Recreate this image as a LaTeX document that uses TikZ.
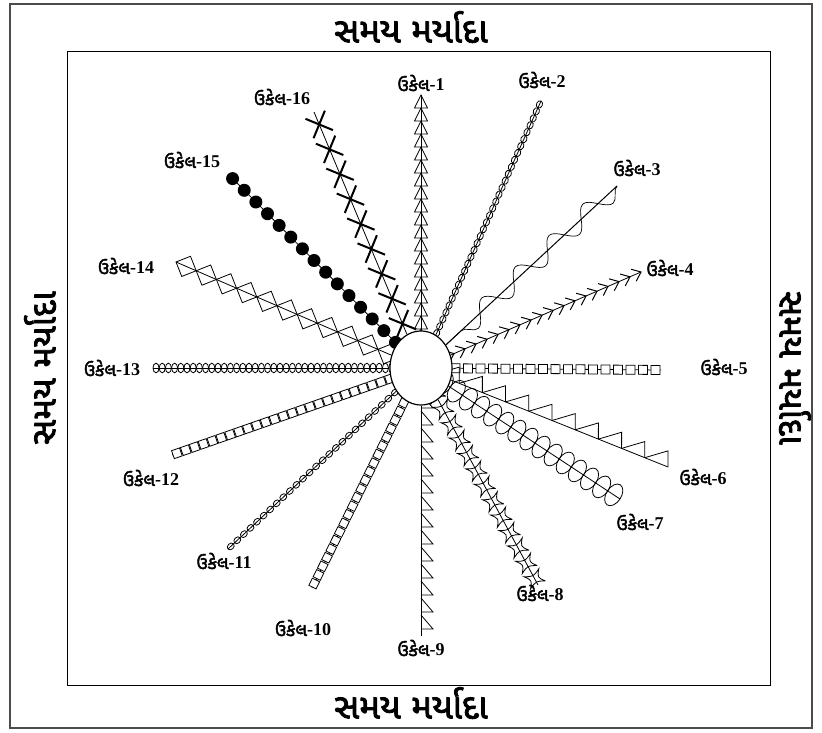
\documentclass[tikz,border=0pt]{standalone}
\usepackage{fontspec}
\setmainfont{Liberation Serif}
\newfontfamily\gujfont[Script=Gujarati,AutoFakeBold=2.5]{Noto Sans Gujarati UI}
\usetikzlibrary{
	shapes.geometric,
	backgrounds,
	decorations.markings,
	decorations.pathmorphing}

\newcommand{\ukel}[1]{{\gujfont\bfseries ઉકેલ}\textbf{-#1}}
\newcommand{\samay}{{\gujfont\bfseries સમય મર્યાદા}}

% rays run from their outer end to the hub, so x points inwards
\tikzset{
	lbl/.style={font=\fontsize{18}{18}\selectfont, inner sep=1pt},
	ttl/.style={font=\fontsize{35}{36}\selectfont, inner sep=1pt},
	frame/.style={draw=black!70, line width=1.2pt},
	hubnode/.style={draw, ellipse, fill=white, line width=1.2pt,
		minimum width=62pt, minimum height=74pt, inner sep=0pt},
	ray/.style={draw, line width=0.8pt},
	marks/.style n args={3}{postaction={decorate, decoration={markings,
		mark=between positions #2 and 1 step #1 with {#3}}}},
	tris/.style={ray, marks={13pt}{0pt}{\draw (0pt,0pt) -- (13pt,-6.5pt) -- (13pt,6.5pt) -- cycle;}},
	beads/.style={ray, marks={#1}{0pt}{\draw (3.8pt,0pt) ellipse [x radius=3.8pt, y radius=3pt];}},
	wavy/.style={ray, line width=1pt, postaction={draw, line width=0.7pt, decorate,
		decoration={snake, amplitude=10pt, segment length=46pt}}},
	chevs/.style={ray, marks={12pt}{0pt}{\draw[line width=1pt] (8pt,6.5pt) -- (0pt,0pt) -- (8pt,-6.5pt);}},
	boxes/.style 2 args={ray, marks={#2}{1pt}{\draw[fill=white] (0pt,-#1) rectangle (2*#1,#1);}},
	saw/.style={ray, marks={25pt}{0pt}{\draw (0pt,0pt) -- (6pt,-15pt) -- (25pt,0pt);}},
	ovals/.style 2 args={ray, marks={#2}{0pt}{\draw (#1,0pt) ellipse [x radius=#1, y radius=1.6*#1];}},
	stars/.style={ray, marks={17.5pt}{0pt}{\draw (0pt,-8.5pt) .. controls (7pt,-3pt) .. (14pt,-8.5pt)
		.. controls (9.5pt,0pt) .. (14pt,8.5pt) .. controls (7pt,3pt) .. (0pt,8.5pt)
		.. controls (4.5pt,0pt) .. (0pt,-8.5pt);}},
	halftris/.style={ray, marks={17pt}{7pt}{\draw (14pt,0pt) -- (0pt,-12pt) -- (0pt,0pt);}},
	diamonds/.style={ray, marks={22pt}{0pt}{\draw (0pt,0pt) -- (11pt,11pt) -- (22pt,0pt) -- (11pt,-11pt) -- cycle;}},
	dots/.style={ray, marks={16.5pt}{0pt}{\fill (6.5pt,0pt) circle (6.5pt);}},
	crosses/.style={ray, marks={27pt}{0pt}{\draw[line width=2pt] (3pt,-10.5pt) -- (24pt,10.5pt) (3pt,10.5pt) -- (24pt,-10.5pt);}}
}

\begin{document}
\begin{tikzpicture}[x=1pt, y=-1pt]
    \useasboundingbox (0,0) rectangle (822,733);
    \draw[frame] (10,4) rectangle (812,728);
    \draw[line width=1pt] (67,52) rectangle (770,685);

    \node[ttl] (ttop) at (411,27) {\samay};
    \node[ttl] (tbottom) at (411,703) {\samay};
    \node[ttl, rotate=90] (tleft) at (40,368) {\samay};
    \node[ttl, rotate=-90] (tright) at (795,368) {\samay};

    \node[hubnode] (hub) at (421,368) {};

    \coordinate (e1) at (421,95);
    \coordinate (e2) at (541,101);
    \coordinate (e3) at (617,186);
    \coordinate (e4) at (641,272);
    \coordinate (e5) at (661,370);
    \coordinate (e6) at (668,467);
    \coordinate (e7) at (620,499);
    \coordinate (e8) at (538,585);
    \coordinate (e9) at (421,636);
    \coordinate (e10) at (312,588);
    \coordinate (e11) at (228,549);
    \coordinate (e12) at (172,455);
    \coordinate (e13) at (153,368);
    \coordinate (e14) at (176,262);
    \coordinate (e15) at (228,174);
    \coordinate (e16) at (314,112);

    \node[lbl] (u1) at (421,83) {\ukel{1}};
    \node[lbl] (u2) at (542,80) {\ukel{2}};
    \node[lbl] (u3) at (637,168) {\ukel{3}};
    \node[lbl] (u4) at (670,268) {\ukel{4}};
    \node[lbl] (u5) at (724,367) {\ukel{5}};
    \node[lbl] (u6) at (703,477) {\ukel{6}};
    \node[lbl] (u7) at (640,522) {\ukel{7}};
    \node[lbl] (u8) at (540,593) {\ukel{8}};
    \node[lbl] (u9) at (421,648) {\ukel{9}};
    \node[lbl] (u10) at (303,628) {\ukel{10}};
    \node[lbl] (u11) at (224,561) {\ukel{11}};
    \node[lbl] (u12) at (151,478) {\ukel{12}};
    \node[lbl] (u13) at (112,368) {\ukel{13}};
    \node[lbl] (u14) at (126,266) {\ukel{14}};
    \node[lbl] (u15) at (192,160) {\ukel{15}};
    \node[lbl] (u16) at (282,97) {\ukel{16}};

    \begin{scope}[on background layer]
    \draw[tris] (e1) -- (hub);
    \draw[beads=7.6pt] (e2) -- (hub);
    \draw[wavy] (e3) -- (hub);
    \draw[chevs] (e4) -- (hub);
    \draw[boxes={4.5pt}{12.5pt}] (e5) -- (hub);
    \draw[saw] (e6) -- (hub);
    \draw[ovals={7.5pt}{14.5pt}] (e7) -- (hub);
    \draw[stars] (e8) -- (hub);
    \draw[halftris] (e9) -- (hub);
    \draw[boxes={4pt}{9.6pt}] (e10) -- (hub);
    \draw[beads=9pt] (e11) -- (hub);
    \draw[boxes={4.2pt}{9.4pt}] (e12) -- (hub);
    \draw[ovals={3pt}{6.2pt}] (e13) -- (hub);
    \draw[diamonds] (e14) -- (hub);
    \draw[dots] (e15) -- (hub);
    \draw[crosses] (e16) -- (hub);
    \end{scope}
\end{tikzpicture}
\end{document}
